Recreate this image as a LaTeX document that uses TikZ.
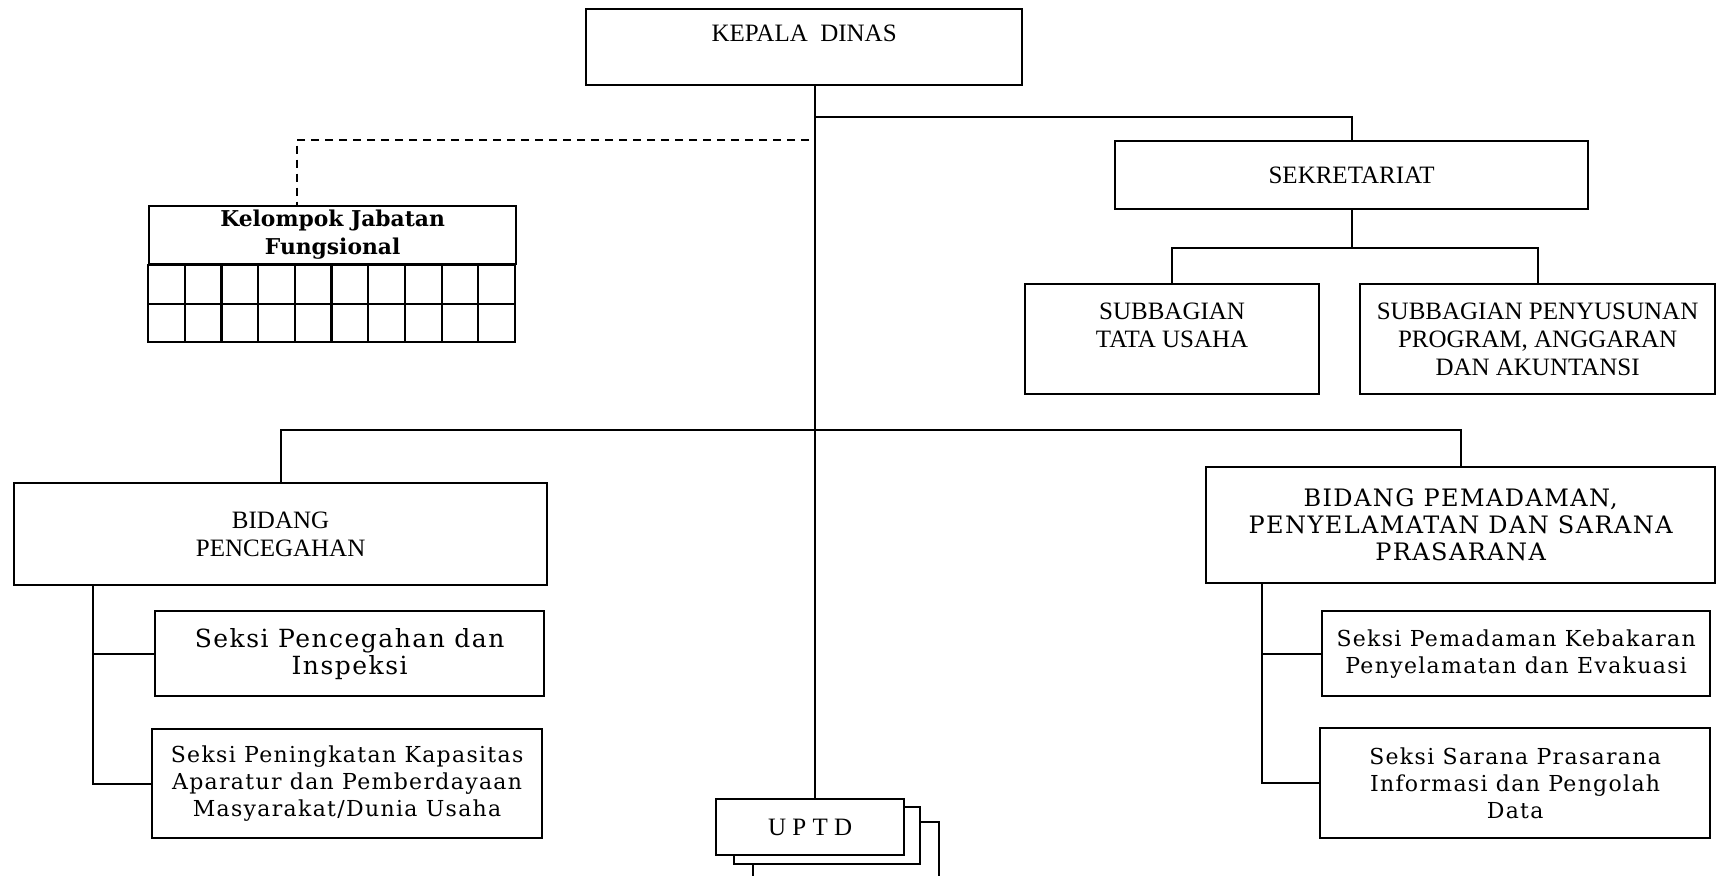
\documentclass[tikz,border=0pt]{standalone}
\usepackage{fontspec}
\setmainfont{Liberation Serif}
\newfontfamily\bookfont[LetterSpace=6]{DejaVu Serif}
\newfontfamily\boldbook{DejaVu Serif}
\usetikzlibrary{positioning}

\newcommand{\capsfont}{\fontsize{12.5}{14}\selectfont}
\newcommand{\bidangfont}{\bookfont\fontsize{12}{13.5}\selectfont}
\newcommand{\seksifont}{\bookfont\fontsize{12.5}{13.5}\selectfont}
\newcommand{\seksismall}{\bookfont\fontsize{11}{13.5}\selectfont}

\begin{document}
\begin{tikzpicture}[x=0.5pt, y=-0.5pt,
    box/.style={draw, line width=1.1pt, fill=white, align=center, inner sep=0pt, anchor=north west},
    link/.style={line width=1.1pt},
    dashlink/.style={line width=1.1pt, dash pattern=on 4pt off 3pt}]

    \useasboundingbox[fill=white] (0,0) rectangle (1716,875);

    % Kepala Dinas
    \node[box, minimum width=218pt, minimum height=38pt, font=\capsfont] (kadis) at (585,8) {KEPALA\ \ DINAS\\ \mbox{}};
    \coordinate (spine) at (815,0);

    % Sekretariat
    \node[box, minimum width=236.5pt, minimum height=34pt, font=\capsfont] (sek) at (1114,140) {SEKRETARIAT};
    \node[box, minimum width=147pt, minimum height=55pt, font=\capsfont] (sta) at (1024,283) {SUBBAGIAN\\TATA USAHA\\ \mbox{}};
    \node[box, minimum width=177.5pt, minimum height=55pt, font=\capsfont] (spa) at (1359,283) {SUBBAGIAN PENYUSUNAN\\PROGRAM, ANGGARAN\\DAN AKUNTANSI};

    % Kelompok Jabatan Fungsional
    \node[box, minimum width=183.5pt, minimum height=29pt, font=\boldbook\bfseries\fontsize{10.9}{14}\selectfont] (kjf) at (148,205) {Kelompok Jabatan\\Fungsional};
    \draw[link] (kjf.south west) rectangle ++(367,77);
    \draw[link] ([yshift=-19.5pt]kjf.south west) -- ++(367,0);
    \foreach \i in {1,...,9}
        \draw[link] ([xshift=\i*18.35pt]kjf.south west) -- ++(0,77);

    % Bidang
    \node[box, minimum width=266.5pt, minimum height=51pt, font=\capsfont] (bp) at (13,482) {BIDANG\\PENCEGAHAN};
    \node[box, minimum width=254.5pt, minimum height=58pt, font=\bidangfont] (bpm) at (1205,466) {BIDANG PEMADAMAN,\\PENYELAMATAN DAN SARANA\\PRASARANA};

    % Seksi
    \node[box, minimum width=194.5pt, minimum height=42.5pt, font=\seksifont] (sk1) at (154,610) {Seksi Pencegahan dan\\Inspeksi};
    \node[box, minimum width=195pt, minimum height=54.5pt, font=\seksismall] (sk2) at (151,728) {Seksi Peningkatan Kapasitas\\Aparatur dan Pemberdayaan\\Masyarakat/Dunia Usaha};
    \node[box, minimum width=194pt, minimum height=42.5pt, font=\seksismall] (sk3) at (1321,610) {Seksi Pemadaman Kebakaran\\Penyelamatan dan Evakuasi};
    \node[box, minimum width=195pt, minimum height=55pt, font=\seksismall] (sk4) at (1319,727) {Seksi Sarana Prasarana\\Informasi dan Pengolah\\Data};

    % UPTD (stacked)
    \node[box, minimum width=93pt, minimum height=28.5pt] (upt3) at (752,821) {};
    \node[box, minimum width=93pt, minimum height=28.5pt] (upt2) at (733,806) {};
    \node[box, minimum width=94pt, minimum height=28pt, font=\capsfont] (uptd) at (715,798) {U\ P\ T\ D};

    % Lines
    \draw[link] (kadis.south -| spine) -- (uptd.north -| spine);
    \coordinate (j1) at (815,117);
    \draw[link] (j1) -| (sek.north);
    \draw[link] (sek.south) -- ++(0,38) coordinate (j2);
    \draw[link] (sta.north) |- (j2) -| (spa.north);
    \coordinate (d0) at (809,140);
    \draw[dashlink] (d0) -| ([xshift=-18pt]kjf.north);
    \coordinate (j3) at (815,430);
    \draw[link] (bp.north) |- (j3) -| (bpm.north);

    % Left and right spines
    \coordinate (lb) at ([xshift=40pt]bp.south west);
    \draw[link] (lb) |- (sk2.west);
    \draw[link] (sk1.west) -- (sk1.west -| lb);
    \coordinate (rb) at ([xshift=28.5pt]bpm.south west);
    \draw[link] (rb) |- (sk4.west);
    \draw[link] (sk3.west) -- (sk3.west -| rb);

\end{tikzpicture}
\end{document}
